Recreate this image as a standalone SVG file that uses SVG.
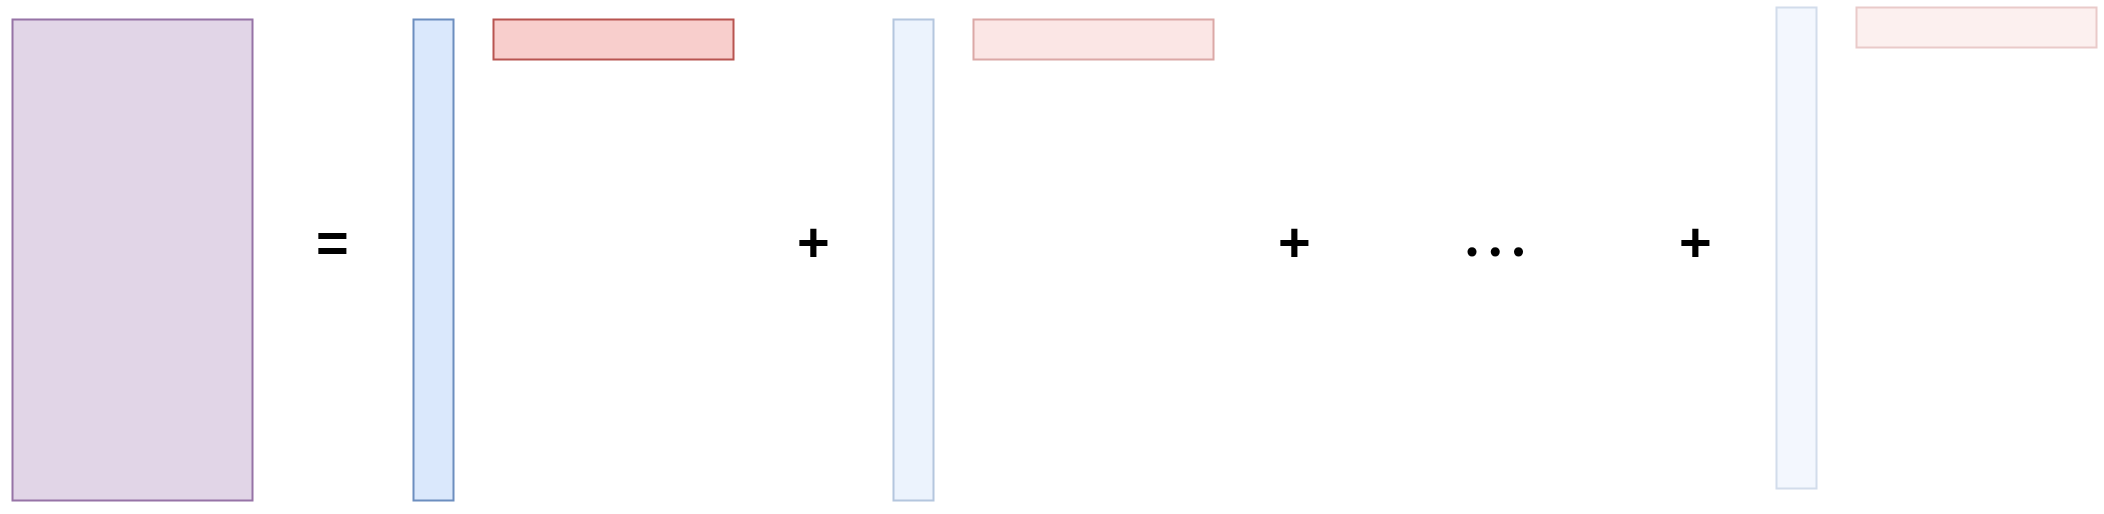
<svg xmlns="http://www.w3.org/2000/svg" width="2104" height="514" viewBox="0 0 2104 514">
  <style>
    .m { stroke-width: 2; }
    .purple { fill: #e1d5e7; stroke: #9673a6; }
    .blue { fill: #dae8fc; stroke: #6c8ebf; }
    .red { fill: #f8cecc; stroke: #b85450; }
    .op50 { opacity: 0.5; }
    .op30 { opacity: 0.3; }
    .sym { font-family: "Liberation Sans", Arial, sans-serif; font-weight: bold; font-size: 56px; fill: #000000; text-anchor: middle; }
    .dots { font-family: "Liberation Serif", "Times New Roman", serif; font-weight: bold; font-size: 56px; fill: #000000; letter-spacing: 9.3px; }
  </style>
  <rect width="2104" height="514" fill="#ffffff"/>
  <g id="matrix">
    <rect class="m purple" x="12.5" y="19.5" width="240" height="481"/>
  </g>
  <g id="equals">
    <text class="sym" x="332.3" y="262">=</text>
  </g>
  <g id="col1">
    <rect class="m blue" x="413.5" y="19.5" width="40" height="481"/>
  </g>
  <g id="row1">
    <rect class="m red" x="493.5" y="19.5" width="240" height="40"/>
  </g>
  <g id="plus1">
    <text class="sym" x="813.3" y="261">+</text>
  </g>
  <g id="col2" class="op50">
    <rect class="m blue" x="893.5" y="19.5" width="40" height="481"/>
  </g>
  <g id="row2" class="op50">
    <rect class="m red" x="973.5" y="19.5" width="240" height="40"/>
  </g>
  <g id="plus2">
    <text class="sym" x="1294.4" y="261">+</text>
  </g>
  <g id="ellipsis">
    <text class="dots" x="1465" y="256">...</text>
  </g>
  <g id="plus3">
    <text class="sym" x="1695.3" y="261">+</text>
  </g>
  <g id="col3" class="op30">
    <rect class="m blue" x="1776.5" y="7.5" width="40" height="481"/>
  </g>
  <g id="row3" class="op30">
    <rect class="m red" x="1856.5" y="7.5" width="240" height="40"/>
  </g>
  <g id="connectors"/>
</svg>
